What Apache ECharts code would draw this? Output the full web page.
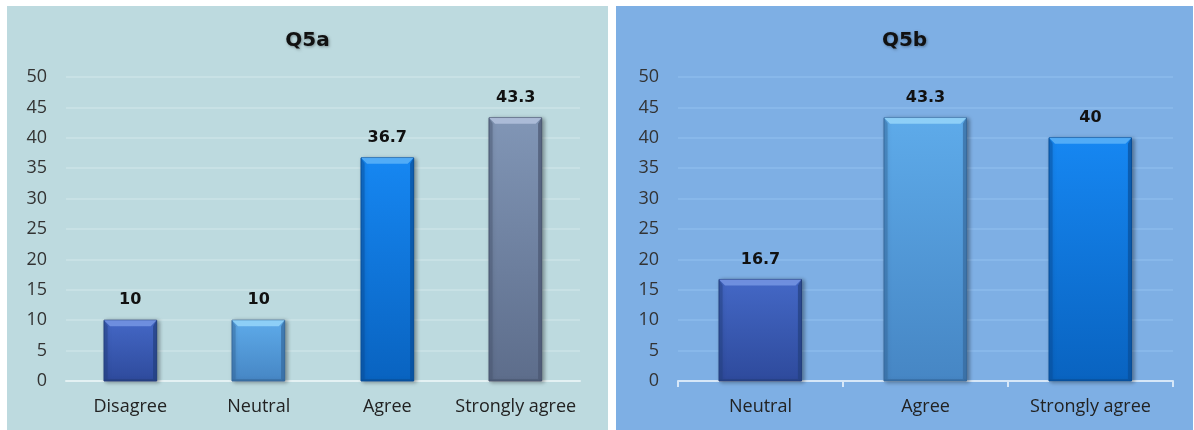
<!DOCTYPE html>
<html>
<head>
<meta charset="utf-8">
<script src="https://cdn.jsdelivr.net/npm/echarts@6/dist/echarts.min.js"></script>
<style>
  html, body { margin: 0; padding: 0; background: #ffffff; width: 1194px; height: 430px; overflow: hidden; }
  #q5a { position: absolute; left: 7px; top: 6px; width: 601px; height: 424px; background: #bddadf; }
  #q5b { position: absolute; left: 616px; top: 6px; width: 577px; height: 424px; background: #7eafe4; }
</style>
</head>
<body>
<div id="q5a"></div>
<div id="q5b"></div>
<script>
// Responses, percent
const q5aCategories = ['Disagree', 'Neutral', 'Agree', 'Strongly agree'];
const q5aValues = [10, 10, 36.7, 43.3];
const q5bCategories = ['Neutral', 'Agree', 'Strongly agree'];
const q5bValues = [16.7, 43.3, 40];
const yTicks = [0, 5, 10, 15, 20, 25, 30, 35, 40, 45, 50];

// bar palettes: [top, bottom, bevel light, edge dark]
const palettes = {
  navy:  ['#4468c6', '#2e4a9c', '#7394e2', '#24407f'],
  sky:   ['#5eabea', '#4686c4', '#94d4fa', '#36699c'],
  blue:  ['#1687f2', '#0963c0', '#58b0f8', '#084e98'],
  slate: ['#8196b6', '#5d6d8b', '#b0c0dc', '#4a5670']
};
const q5aColors = ['navy', 'sky', 'blue', 'slate'];
const q5bColors = ['navy', 'sky', 'blue'];

function grad(p) {
  return new echarts.graphic.LinearGradient(0, 0, 0, 1, [
    { offset: 0, color: p[0] }, { offset: 1, color: p[1] }
  ]);
}

// bevelled bar drawn from the value scale of the grid
function bevelItem(ratio, colorKeys) {
  return function (params, api) {
    const i = api.value(0);
    const v = api.value(1);
    const top = api.coord([i, v]);
    const base = api.coord([i, 0]);
    const w = api.size([1, 0])[0] * ratio;
    const x = Math.round(top[0] - w / 2);
    const y = top[1];
    const y0 = base[1];
    const b = 6;
    const p = palettes[colorKeys[params.dataIndex]];
    return {
      type: 'group',
      children: [
        { type: 'rect', shape: { x: x, y: y, width: w, height: y0 - y },
          style: { fill: grad(p), stroke: p[3], lineWidth: 1, shadowBlur: 4, shadowOffsetX: 2, shadowOffsetY: 1, shadowColor: 'rgba(0,0,0,0.35)' } },
        { type: 'polygon', shape: { points: [[x, y], [x + w, y], [x + w - b, y + b], [x + b, y + b]] },
          style: { fill: p[2], opacity: 0.9 } },
        { type: 'polygon', shape: { points: [[x, y], [x + b * 0.6, y + b], [x + b * 0.6, y0 - 2], [x, y0]] },
          style: { fill: p[3], opacity: 0.45 } },
        { type: 'polygon', shape: { points: [[x + w, y], [x + w - b * 0.6, y + b], [x + w - b * 0.6, y0 - 2], [x + w, y0]] },
          style: { fill: p[3], opacity: 0.7 } },
        { type: 'rect', shape: { x: x, y: y0 - 2, width: w, height: 2 },
          style: { fill: p[3], opacity: 0.6 } }
      ]
    };
  };
}

function buildOption(title, cats, vals, colorKeys, opts) {
  return {
    animation: false,
    title: {
      text: title, left: 'center', top: 20,
      textStyle: { fontFamily: 'DejaVu Sans', fontWeight: 'bold', fontSize: 20, color: '#111',
        textShadowColor: 'rgba(0,0,0,0.35)', textShadowBlur: 3, textShadowOffsetX: 1, textShadowOffsetY: 1 }
    },
    grid: { left: opts.left, right: opts.right, top: 71, bottom: 49 },
    xAxis: {
      type: 'category', data: cats,
      axisLine: { lineStyle: { color: opts.axisColor, width: 2 } },
      axisTick: { show: opts.ticks, length: 6, lineStyle: { color: opts.axisColor, width: 2 } },
      axisLabel: { interval: 0, color: '#222', fontFamily: 'Open Sans', fontSize: 18, margin: 17 }
    },
    yAxis: {
      type: 'value', min: yTicks[0], max: yTicks[yTicks.length - 1], interval: 5,
      axisLine: { show: false }, axisTick: { show: false },
      axisLabel: { color: '#333', fontFamily: 'Open Sans', fontSize: 18, margin: 19 },
      splitLine: { lineStyle: { color: opts.gridColor, width: 1.5 } }
    },
    series: [
      {
        type: 'bar', data: vals, barWidth: (opts.ratio * 100) + '%',
        itemStyle: { color: 'rgba(0,0,0,0)' },
        label: { show: true, position: 'top', distance: 12, color: '#111',
          fontFamily: 'DejaVu Sans', fontWeight: 'bold', fontSize: 16 }
      },
      {
        type: 'custom', renderItem: bevelItem(opts.ratio, colorKeys),
        data: vals.map((v, i) => [i, v]), z: 3
      }
    ]
  };
}

const chartA = echarts.init(document.getElementById('q5a'), null, { renderer: 'canvas' });
chartA.setOption(buildOption('Q5a', q5aCategories, q5aValues, q5aColors,
  { left: 59, right: 28, ratio: 0.41, ticks: false, axisColor: '#e4f1f3', gridColor: '#cce3e7' }));

const chartB = echarts.init(document.getElementById('q5b'), null, { renderer: 'canvas' });
chartB.setOption(buildOption('Q5b', q5bCategories, q5bValues, q5bColors,
  { left: 62, right: 20, ratio: 0.5, ticks: true, axisColor: '#d6e7f8', gridColor: '#8dbbec' }));
</script>
</body>
</html>
